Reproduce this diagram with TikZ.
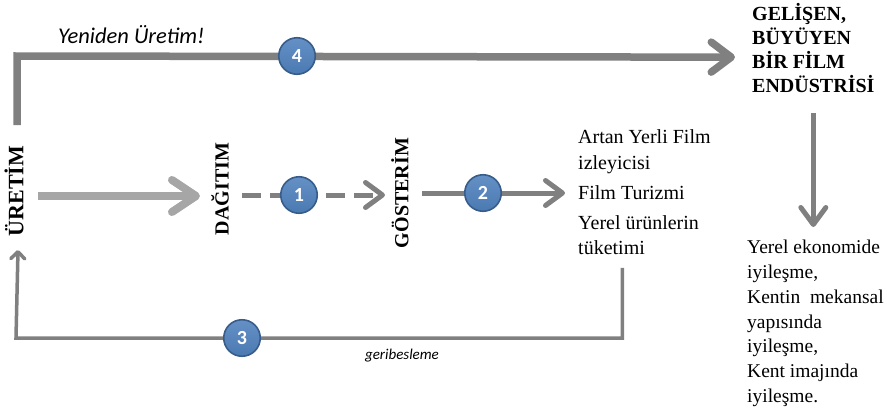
\documentclass[tikz,border=0pt]{standalone}
\usepackage{fontspec}
\setmainfont{Liberation Serif}
\newfontfamily\calfont{Carlito}
\usetikzlibrary{arrows.meta,calc}

\definecolor{flowgray}{HTML}{808080}
\definecolor{lightflow}{HTML}{A6A6A6}
\definecolor{badgefill}{HTML}{4F81BD}
\definecolor{badgeedge}{HTML}{385D8A}

\tikzset{
  stagelabel/.style={inner sep=0pt, font=\bfseries\fontsize{20}{24}\selectfont, rotate=90},
  headtext/.style={inner sep=0pt, align=left, font=\bfseries\fontsize{20}{24.2}\selectfont},
  bodytext/.style={inner sep=0pt, align=left, font=\fontsize{20}{25.5}\selectfont},
  effecttext/.style={inner sep=0pt, align=left, font=\fontsize{19.5}{24.8}\selectfont},
  notetext/.style={inner sep=0pt, font=\calfont\itshape\fontsize{#1}{#1}\selectfont},
  badge/.style={circle, inner sep=0pt, minimum size=36.5pt, line width=1.6pt,
    draw=badgeedge, top color=badgefill!88!white, bottom color=badgefill!94!black,
    text=white, font=\calfont\bfseries\fontsize{20}{20}\selectfont},
  thickflow/.style={draw=flowgray, line width=7.5pt, line join=miter,
    -{Straight Barb[length=20pt,width=30pt,round]}},
  lightflowarrow/.style={draw=lightflow, line width=8pt,
    -{Straight Barb[length=24pt,width=32pt,round]}},
  midflow/.style={draw=flowgray, line width=5pt,
    -{Straight Barb[length=17pt,width=25pt,round]}},
  thinflow/.style={draw=flowgray, line width=3.5pt, line join=miter,
    -{Straight Barb[length=7pt,width=14pt,round]}}
}

\begin{document}
\begin{tikzpicture}[x=1pt,y=-1pt]
\useasboundingbox (0,0) rectangle (887,410);

% stages of the chain
\node[stagelabel, font=\bfseries\fontsize{22}{24}\selectfont] (ure) at (14,191) {ÜRETİM};
\node[stagelabel] (dag) at (220,189) {DAĞITIM};
\node[stagelabel] (gos) at (400,193) {GÖSTERİM};

% outcomes
\node[bodytext, anchor=north west] (art) at (578,129.5)
  {Artan Yerli Film\\izleyicisi\\[4.5pt]Film Turizmi\\[4.5pt]Yerel ürünlerin\\tüketimi};
\node[headtext, anchor=north west] (gel) at (752,3)
  {GELİŞEN,\\BÜYÜYEN\\BİR FİLM\\ENDÜSTRİSİ};
\node[effecttext, anchor=north west] (yer) at (747,240)
  {Yerel ekonomide\\iyileşme,\\Kentin\ \ mekansal\\yapısında\\iyileşme,\\Kent\ imajında\\iyileşme.};

% helper points
\coordinate (topstart) at ($(ure.center)+(3,-66)$);
\coordinate (topcorner) at ($(ure.center)+(3,-135)$);
\coordinate (topend) at ($(gel.west)+(-17,9)$);
\coordinate (fbstart) at ($(art.south)+(-22,13)$);
\coordinate (fbcorner) at ($(ure.center)+(2,147)$);
\coordinate (fbend) at ($(ure.center)+(4,59)$);

% connectors
\draw[thickflow] (topstart) -- (topcorner) -- (topend);
\draw[lightflowarrow] ($(ure.center)+(24,5)$) -- ($(dag.center)+(-20,7)$);
\draw[midflow, dash pattern=on 19pt off 9pt] ($(dag.center)+(22,6)$) -- ($(gos.center)+(-15,2)$);
\draw[midflow] ($(gos.center)+(22,0)$) -- ($(art.west |- gos.center)+(-13,0)$);
\draw[midflow] ($(gel.south)+(0,20)$) -- ($(gel.south |- yer.north)+(0,-13)$);
\draw[thinflow] (fbstart) |- (fbcorner) -- (fbend);

% step badges
\node[badge] (n4) at (297,56) {4};
\node[badge] (n1) at (299,195) {1};
\node[badge] (n2) at (483,193) {2};
\node[badge] (n3) at (242,338) {3};

% captions
\node[notetext=22.5, anchor=base west] (yen) at (58,43.5) {Yeniden Üretim!};
\node[notetext=15, anchor=base] (geri) at (402,359) {geribesleme};
\end{tikzpicture}
\end{document}
